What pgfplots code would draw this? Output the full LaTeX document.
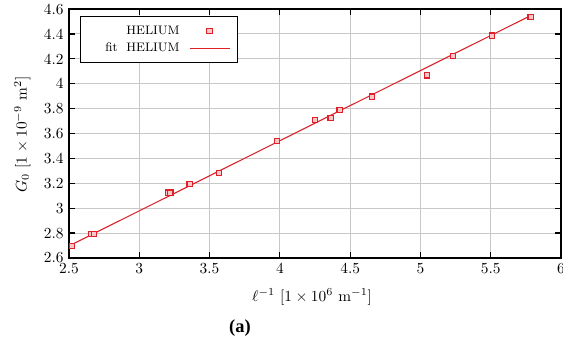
\documentclass[border=0pt]{standalone}
\usepackage{pgfplots}
\pgfplotsset{compat=1.18}
\usepackage{fontspec}
\newfontfamily\capfont{Liberation Serif}
\definecolor{gpred}{RGB}{224,32,40}
\definecolor{gridgray}{RGB}{200,200,200}
\begin{document}
\begin{tikzpicture}[x=0.65pt,y=0.65pt]
\useasboundingbox (-69,-87) rectangle (494,258);
\begin{axis}[
  at={(0,0)}, anchor=south west,
  scale only axis,
  width=319.8pt, height=161.85pt,
  xmin=2.5, xmax=6, ymin=2.6, ymax=4.6,
  xtick={2.5,3,3.5,4,4.5,5,5.5,6},
  ytick={2.6,2.8,3,3.2,3.4,3.6,3.8,4,4.2,4.4,4.6},
  xticklabels={2.5,3,3.5,4,4.5,5,5.5,6},
  yticklabels={2.6,2.8,3,3.2,3.4,3.6,3.8,4,4.2,4.4,4.6},
  tick align=inside,
  major tick length=4pt,
  tick style={black, line width=0.8pt},
  axis line style={black, line width=0.9pt},
  grid=major,
  major grid style={gridgray, line width=0.6pt},
  xlabel={$\ell^{-1}\ [1\times10^{6}\ \mathrm{m}^{-1}]$},
  ylabel={$G_0\ [1\times10^{-9}\ \mathrm{m}^{2}]$},
  xlabel style={at={(axis description cs:0.494,-0.157)}, anchor=center},
  ylabel style={at={(axis description cs:-0.095,0.496)}, anchor=center},
  legend style={at={(axis description cs:0.0224,0.972)}, anchor=north west,
    draw=black, line width=0.8pt, font=\footnotesize, inner xsep=5pt, inner ysep=4pt,
    cells={anchor=east}, column sep=4pt},
  legend plot pos=right,
  legend cell align=right,
  legend image code/.code={\draw[mark repeat=2,mark phase=2,#1] plot coordinates {(0pt,0pt) (13pt,0pt) (26pt,0pt)};},
  legend image post style={line width=0.8pt},
]
\addplot[only marks, mark=square*, mark size=1.7pt, draw=gpred, mark options={line width=0.7pt, fill=gpred!25}]
  coordinates {
  (2.52,2.694) (2.659,2.790) (2.676,2.795) (3.202,3.125) (3.221,3.125)
  (3.358,3.192) (3.565,3.285) (3.981,3.542) (4.249,3.708) (4.361,3.724)
  (4.425,3.789) (4.653,3.896) (5.048,4.067) (5.233,4.225) (5.509,4.386)
  (5.784,4.538)
  };
\addlegendentry{HELIUM}
\addplot[gpred, line width=0.7pt] coordinates {(2.5,2.697) (5.784,4.547)};
\addlegendentry{\hspace*{9pt}fit\ \ HELIUM}
\end{axis}
\node[font=\capfont\bfseries\large] at (171,-70) {(a)};
\end{tikzpicture}
\end{document}
